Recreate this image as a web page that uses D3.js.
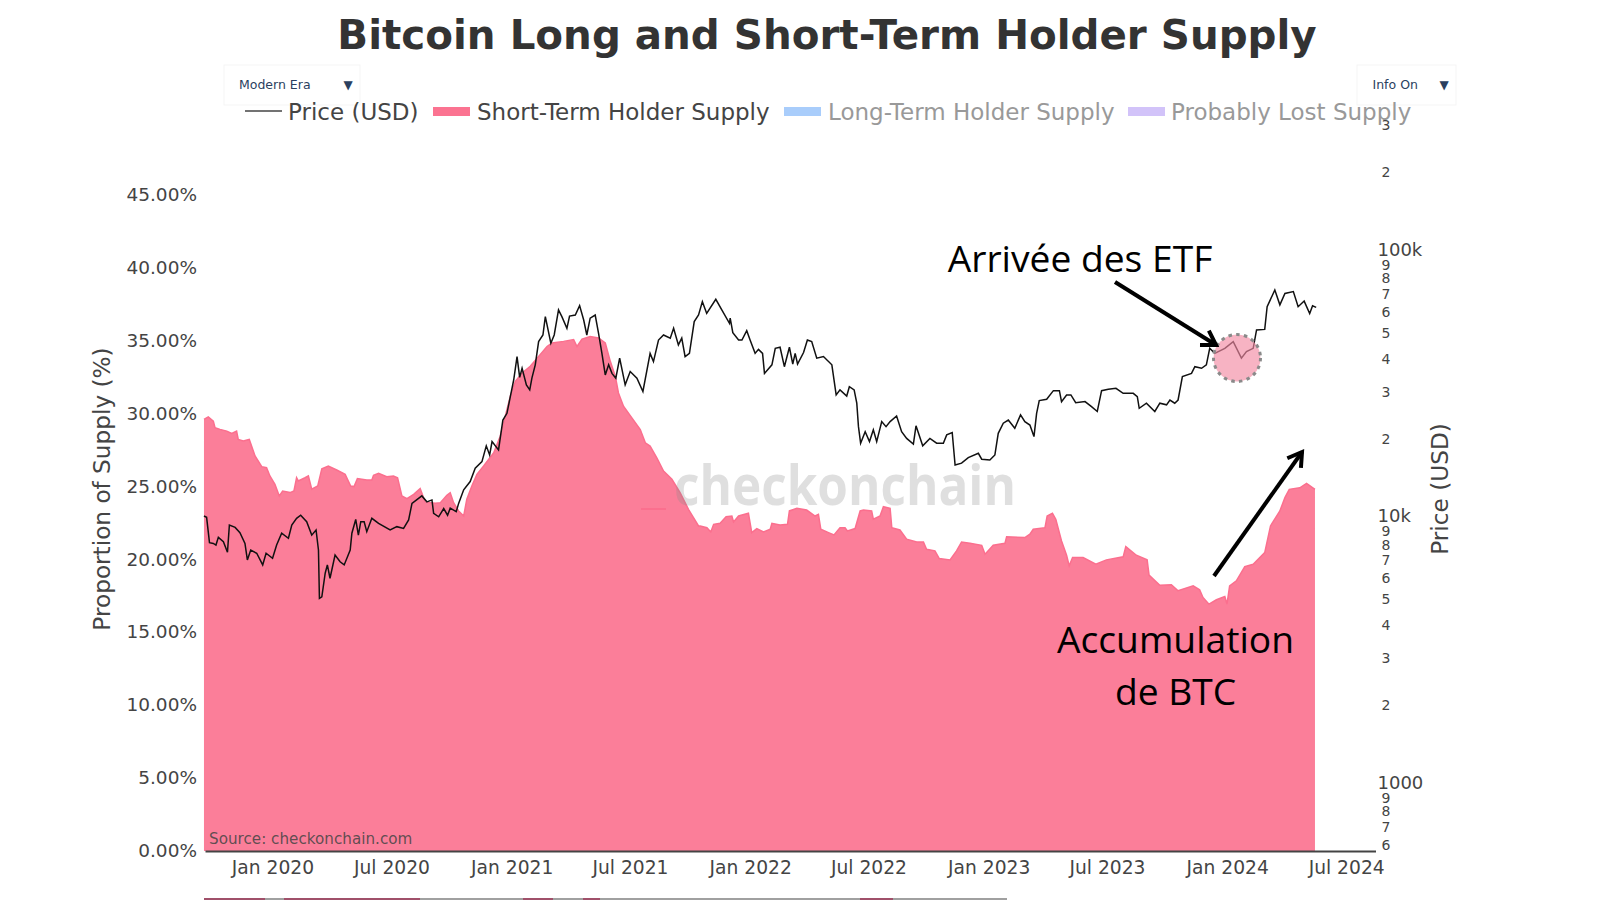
<!DOCTYPE html>
<html>
<head>
<meta charset="utf-8">
<script src="https://cdn.jsdelivr.net/npm/d3@7"></script>
<style>
html, body { margin: 0; padding: 0; background: #fff; }
svg { display: block; }
text { font-family: "DejaVu Sans", sans-serif; }
</style>
</head>
<body>
<div id="chart"></div>
<script>
// Short-term holder supply, [decimal year, % of supply]
var supplyData = [
[2019.710,29.66],[2019.728,29.84],[2019.749,29.55],[2019.756,29.09],[2019.777,28.98],[2019.805,28.86],[2019.826,28.70],[2019.846,28.86],[2019.853,28.29],[2019.874,28.18],[2019.899,28.29],[2019.923,27.15],[2019.951,26.42],[2019.971,26.35],[2019.985,25.78],
[2020.006,25.21],[2020.024,24.41],[2020.038,24.75],[2020.069,24.64],[2020.085,24.75],[2020.096,25.66],[2020.103,25.44],[2020.131,25.66],[2020.145,25.78],[2020.159,24.87],[2020.184,25.09],[2020.201,26.28],[2020.228,26.46],[2020.263,26.19],[2020.298,25.89],[2020.321,25.09],[2020.335,25.05],[2020.349,25.60],[2020.388,25.51],[2020.409,25.51],[2020.416,25.82],[2020.437,25.96],[2020.471,25.73],[2020.499,25.78],[2020.516,25.66],[2020.534,24.41],[2020.555,24.23],[2020.583,24.52],[2020.610,24.91],[2020.631,24.00],[2020.673,23.91],[2020.694,23.95],[2020.721,24.45],
[2020.735,24.63],[2020.749,23.95],[2020.770,23.38],[2020.791,23.03],[2020.804,24.18],[2020.825,25.09],[2020.846,25.89],[2020.874,26.46],[2020.916,27.37],[2020.943,28.51],[2020.964,29.88],[2020.985,31.25],
[2021.006,32.28],[2021.034,32.85],[2021.068,33.31],[2021.103,33.99],[2021.138,34.67],[2021.159,34.91],[2021.207,35.02],[2021.249,35.14],[2021.263,34.67],[2021.284,35.18],[2021.318,35.36],[2021.353,35.25],[2021.381,34.91],[2021.402,33.65],[2021.423,32.62],[2021.436,31.48],[2021.457,30.57],[2021.492,29.77],[2021.527,28.97],[2021.548,28.06],[2021.568,27.83],[2021.596,27.03],[2021.624,26.12],[2021.659,25.55],[2021.693,24.63],[2021.728,23.49],[2021.770,22.35],
[2021.777,22.35],[2021.805,22.23],[2021.821,21.94],[2021.833,22.46],[2021.860,22.53],[2021.885,22.99],[2021.909,23.03],[2021.916,22.62],[2021.937,23.03],[2021.978,23.22],[2021.992,21.89],
[2022.013,22.17],[2022.041,21.94],[2022.069,22.12],[2022.076,22.53],[2022.110,22.42],[2022.141,22.46],[2022.149,23.38],[2022.180,23.56],[2022.221,23.44],[2022.256,23.03],[2022.270,23.15],[2022.280,22.12],[2022.312,21.89],[2022.335,21.73],[2022.360,22.23],[2022.381,22.23],[2022.391,22.01],[2022.423,22.17],[2022.444,23.38],[2022.458,23.44],[2022.492,23.38],[2022.499,22.81],[2022.527,23.03],[2022.541,23.67],[2022.569,23.56],[2022.576,22.23],[2022.610,22.07],[2022.638,21.44],[2022.680,21.25],[2022.708,21.25],[2022.721,20.75],[2022.756,20.64],[2022.774,20.11],[2022.819,20.02],[2022.846,20.64],[2022.867,21.25],[2022.902,21.16],[2022.951,21.02],[2022.965,20.41],
[2022.999,21.02],[2023.048,21.16],[2023.055,21.60],[2023.131,21.55],[2023.152,21.78],[2023.166,22.12],[2023.215,22.23],[2023.224,23.03],[2023.246,23.22],[2023.260,22.81],[2023.284,21.32],[2023.305,20.34],[2023.316,19.61],[2023.330,20.18],[2023.374,20.18],[2023.427,19.72],[2023.471,20.02],[2023.541,20.23],[2023.552,20.93],[2023.596,20.34],[2023.641,20.02],[2023.649,18.97],[2023.694,18.28],[2023.742,18.31],[2023.770,17.90],[2023.833,18.24],[2023.860,17.96],[2023.874,17.44],[2023.899,16.98],[2023.930,17.28],[2023.965,17.51],[2023.974,16.98],[2023.985,18.24],
[2024.013,18.58],[2024.048,19.56],[2024.083,19.72],[2024.131,20.52],[2024.155,22.35],[2024.194,23.38],[2024.215,24.29],[2024.233,24.86],[2024.277,24.97],[2024.305,25.27],[2024.340,24.86]
];

// Price, [decimal year, USD]
var priceData = [
[2019.710,10090],[2019.721,9970],[2019.733,8010],[2019.749,7960],[2019.760,7850],[2019.770,8390],[2019.791,8080],[2019.808,7370],[2019.816,9330],[2019.840,9140],[2019.860,8730],[2019.881,7960],[2019.891,6900],[2019.905,7520],[2019.930,7310],[2019.955,6610],[2019.969,7310],[2019.996,7000],
[2020.013,7850],[2020.034,8690],[2020.062,8320],[2020.076,9330],[2020.096,9890],[2020.113,10160],[2020.138,9600],[2020.159,8550],[2020.177,8940],[2020.187,7520],[2020.191,4950],[2020.201,5020],[2020.215,6150],[2020.224,6610],[2020.235,5890],[2020.256,7200],[2020.277,6790],[2020.294,6610],[2020.319,7520],[2020.326,8690],[2020.342,9790],[2020.353,8550],[2020.363,9600],[2020.377,9600],[2020.388,8810],[2020.409,9890],[2020.437,9460],[2020.485,8940],[2020.513,9200],[2020.541,9060],[2020.562,9750],[2020.576,11250],[2020.617,12000],[2020.638,11400],[2020.659,11590],[2020.666,10330],[2020.687,10020],[2020.708,10760],[2020.724,10160],
[2020.735,10790],[2020.760,10470],[2020.770,11250],[2020.791,12650],[2020.818,13580],[2020.839,15240],[2020.867,16140],[2020.885,18490],[2020.899,17100],[2020.909,19190],[2020.936,17860],[2020.954,23120],[2020.971,24490],[2020.985,28310],[2020.999,32660],
[2021.013,39990],[2021.024,33420],[2021.034,36140],[2021.052,31330],[2021.066,29990],[2021.075,33190],[2021.089,37240],[2021.103,45500],[2021.121,48190],[2021.131,56490],[2021.154,44870],[2021.168,48190],[2021.186,59840],[2021.200,56490],[2021.221,51050],[2021.232,56750],[2021.256,57280],[2021.274,62090],[2021.291,54830],[2021.304,48190],[2021.318,55720],[2021.339,57280],[2021.353,48870],[2021.367,41110],[2021.381,34120],[2021.395,37240],[2021.409,34590],[2021.425,33190],[2021.441,39450],[2021.464,31330],[2021.485,35160],[2021.513,33190],[2021.538,29580],[2021.568,41110],[2021.582,38280],[2021.603,46130],[2021.624,48190],[2021.652,46880],[2021.666,51050],[2021.686,44260],[2021.700,46880],[2021.714,39990],[2021.732,41110],[2021.752,54080],[2021.770,57280],[2021.786,64270],[2021.804,58080],[2021.842,65610],[2021.867,59840],[2021.899,53330],
[2021.902,55720],[2021.913,49200],[2021.937,46130],[2021.951,46130],[2021.971,50000],[2021.985,46130],[2022.006,41110],[2022.020,42560],[2022.037,41110],[2022.045,34590],[2022.076,37240],[2022.090,42950],[2022.110,43350],[2022.128,36640],[2022.149,43350],[2022.163,37500],[2022.173,41110],[2022.183,37500],[2022.208,41400],[2022.224,46130],[2022.242,45500],[2022.263,39450],[2022.291,39990],[2022.326,37240],[2022.344,28710],[2022.360,29990],[2022.388,28440],[2022.399,30830],[2022.419,29990],[2022.430,26730],[2022.437,21830],[2022.446,18920],[2022.465,20890],[2022.483,19190],[2022.499,21230],[2022.513,19190],[2022.534,22800],[2022.552,21830],[2022.569,22800],[2022.596,23930],[2022.617,20890],[2022.638,19720],[2022.666,18790],[2022.677,21980],[2022.705,18490],[2022.735,19720],[2022.763,18920],[2022.791,18920],[2022.805,20320],[2022.828,20750],[2022.840,15670],[2022.867,15920],[2022.895,16710],[2022.937,17340],[2022.951,16480],[2022.985,16370],
[2023.006,17100],[2023.020,20610],[2023.041,22490],[2023.062,23120],[2023.089,21530],[2023.113,24150],[2023.131,22800],[2023.152,22130],[2023.169,20040],[2023.180,24490],[2023.191,27350],[2023.222,27670],[2023.250,29790],[2023.275,29790],[2023.284,27100],[2023.305,28710],[2023.323,28710],[2023.343,26850],[2023.382,27100],[2023.409,25940],[2023.433,24890],[2023.451,29790],[2023.479,30130],[2023.511,30410],[2023.541,29110],[2023.583,29110],[2023.600,28310],[2023.608,25590],[2023.638,26730],[2023.673,24890],[2023.694,26730],[2023.722,26360],[2023.736,27480],[2023.756,26730],[2023.770,27480],[2023.788,33650],[2023.826,34590],[2023.840,36640],[2023.868,36140],[2023.888,37240],[2023.902,42950],[2023.923,41110],[2023.965,42950],
[2024.000,45500],[2024.034,39450],[2024.055,41780],[2024.083,42950],[2024.097,50350],[2024.131,50580],[2024.141,61520],[2024.173,71120],[2024.194,62520],[2024.215,69020],[2024.250,70150],[2024.270,61520],[2024.295,64600],[2024.318,58000],[2024.330,62000],[2024.345,61200]
];

var pctTicks = [0,5,10,15,20,25,30,35,40,45];
var dateTicks = ["2020-01-01","2020-07-01","2021-01-01","2021-07-01","2022-01-01","2022-07-01","2023-01-01","2023-07-01","2024-01-01","2024-07-01"];
var priceMajor = [1000,10000,100000];
var priceMinor = [600,700,800,900,2000,3000,4000,5000,6000,7000,8000,9000,20000,30000,40000,50000,60000,70000,80000,90000,200000,300000];
var legendItems = [
    {name:"Price (USD)", color:"#444", type:"line", faded:false},
    {name:"Short-Term Holder Supply", color:"#fb7391", type:"bar", faded:false},
    {name:"Long-Term Holder Supply", color:"#a9cdfb", type:"bar", faded:true},
    {name:"Probably Lost Supply", color:"#d2c3f9", type:"bar", faded:true}
];

function toDate(yr) {
    var y = Math.floor(yr);
    var start = new Date(y,0,1).getTime();
    var end = new Date(y+1,0,1).getTime();
    return new Date(start + (yr-y)*(end-start));
}
// years above were read with a 240px/yr ruler, the axis is a bit tighter
function readDate(yr) {
    return toDate(2020 + 0.0042 + 1.00524*(yr-2020));
}

var left = 205, right = 1375.5, bottom = 851;

var svg = d3.select("#chart").append("svg").attr("width",1600).attr("height",900);

var x = d3.scaleTime().domain([toDate(2019.717),toDate(2024.62)]).range([left,right]);
var y = d3.scaleLinear().domain([0,45]).range([851.5,196]);
var yPrice = d3.scaleLog().domain([10000,100000]).range([517,250.5]);

// title
svg.append("text").attr("x",827).attr("y",49).attr("text-anchor","middle")
    .style("font-size","40.4px").style("font-weight","bold").style("fill","#333")
    .text("Bitcoin Long and Short-Term Holder Supply");

// the two dropdowns
function dropdown(x0, w, label, labelX, arrowX) {
    svg.append("rect").attr("x",x0).attr("y",65).attr("width",w).attr("height",40)
        .attr("fill","#fff").attr("stroke","#f5f5f5");
    svg.append("text").attr("x",labelX).attr("y",89).style("font-size","12.5px").style("fill","#2a3f5f").text(label);
    svg.append("text").attr("x",arrowX).attr("y",89).attr("text-anchor","middle").style("font-size","12px").style("fill","#2a3f5f").text("▼");
}
dropdown(224,136,"Modern Era",239,348);
dropdown(1357,99,"Info On",1372.5,1444);

// legend
var legendX = [[245,288],[433,477],[784,828],[1128,1171]];
var lg = svg.selectAll("g.lg").data(legendItems).enter().append("g").attr("class","lg");
lg.each(function(d,i) {
    var g = d3.select(this), p = legendX[i];
    if (d.type == "line") {
        g.append("line").attr("x1",p[0]).attr("x2",p[0]+37).attr("y1",111).attr("y2",111).attr("stroke",d.color).attr("stroke-width",1.5);
    } else {
        g.append("rect").attr("x",p[0]).attr("y",107).attr("width",37).attr("height",9).attr("fill",d.color);
    }
    g.append("text").attr("x",p[1]).attr("y",120).style("font-size","23px")
        .style("fill",d.faded ? "#999" : "#444").text(d.name);
});

// supply area
var area = d3.area().x(function(d){return x(readDate(d[0]));}).y0(bottom).y1(function(d){return y(d[1]);});
var edge = d3.line().x(function(d){return x(readDate(d[0]));}).y(function(d){return y(d[1]);});
svg.append("path").datum(supplyData).attr("d",area).attr("fill","#fb7e99");
svg.append("path").datum(supplyData).attr("d",edge).attr("fill","none").attr("stroke","#fb6f8e").attr("stroke-width",1.5);

// stray dash the screenshot has inside the area
svg.append("line").attr("x1",641).attr("x2",666).attr("y1",509).attr("y2",509).attr("stroke","#fb6f8e").attr("stroke-width",2);

// watermark
svg.append("text").attr("x",845).attr("y",505).attr("text-anchor","middle")
    .attr("textLength",342).attr("lengthAdjust","spacingAndGlyphs")
    .style("font-family","'Open Sans', sans-serif").style("font-size","56px").style("font-weight","bold")
    .style("fill","#888").style("fill-opacity",0.27).text("checkonchain");

// price line
var priceLine = d3.line().x(function(d){return x(readDate(d[0]));}).y(function(d){return yPrice(d[1]);});
svg.append("path").datum(priceData).attr("d",priceLine).attr("fill","none").attr("stroke","#111").attr("stroke-width",1.5);

// left axis
var yAxis = d3.axisLeft(y).tickValues(pctTicks).tickSize(0).tickPadding(8).tickFormat(function(d){return d3.format(".2f")(d)+"%";});
var gy = svg.append("g").attr("transform","translate("+left+",-1)").call(yAxis);
gy.select(".domain").remove();
gy.selectAll("text").style("font-size","18.5px").style("fill","#444").style("font-family","'DejaVu Sans', sans-serif");

// bottom axis
var xAxis = d3.axisBottom(x).tickValues(dateTicks.map(function(s){return d3.timeParse("%Y-%m-%d")(s);})).tickSize(0).tickPadding(10).tickFormat(d3.timeFormat("%b %Y"));
var gx = svg.append("g").attr("transform","translate(0,"+bottom+")").call(xAxis);
gx.select(".domain").attr("stroke","#444").attr("stroke-width",2);
gx.selectAll("text").style("font-size","18.7px").style("fill","#444").style("font-family","'DejaVu Sans', sans-serif");

// right axis, majors and minors have different sizes and baselines
var major = d3.axisRight(yPrice).tickValues(priceMajor).tickSize(0).tickPadding(2).tickFormat(function(d){return d >= 10000 ? (d/1000)+"k" : d;});
var gMajor = svg.append("g").attr("transform","translate("+right+",-1)").call(major);
gMajor.select(".domain").remove();
gMajor.selectAll("text").style("font-size","18px").style("fill","#444").style("font-family","'DejaVu Sans', sans-serif");
var minor = d3.axisRight(yPrice).tickValues(priceMinor).tickSize(0).tickPadding(6).tickFormat(function(d){return String(d)[0];});
var gMinor = svg.append("g").attr("transform","translate("+right+",2)").call(minor);
gMinor.select(".domain").remove();
gMinor.selectAll("text").style("font-size","14px").style("fill","#444").style("font-family","'DejaVu Sans', sans-serif");

// axis titles
svg.append("text").attr("transform","translate(110,489) rotate(-90)").attr("text-anchor","middle")
    .style("font-size","23.2px").style("fill","#444").text("Proportion of Supply (%)");
svg.append("text").attr("transform","translate(1448,489) rotate(-90)").attr("text-anchor","middle")
    .style("font-size","23.2px").style("fill","#444").text("Price (USD)");

svg.append("text").attr("x",209).attr("y",844).style("font-size","15.2px").style("fill","#444").style("fill-opacity",0.85).text("Source: checkonchain.com");

// cropped range slider at the very bottom of the screenshot
svg.append("rect").attr("x",204).attr("y",898).attr("width",803).attr("height",2).attr("fill","#a0a0a0");
[[204,61],[284,136],[523,30],[583,17],[860,33]].forEach(function(s) {
    svg.append("rect").attr("x",s[0]).attr("y",898).attr("width",s[1]).attr("height",2).attr("fill","#a0506a");
});

// annotations added on top
svg.append("circle").attr("cx",1237).attr("cy",358).attr("r",23.5)
    .attr("fill","#f28ba3").attr("fill-opacity",0.65)
    .attr("stroke","#8a8a8a").attr("stroke-width",3).attr("stroke-dasharray","3.5,4.3");

function arrow(x1,y1,x2,y2) {
    var a = Math.atan2(y2-y1,x2-x1), h = 16;
    svg.append("line").attr("x1",x1).attr("y1",y1).attr("x2",x2).attr("y2",y2).attr("stroke","#000").attr("stroke-width",4);
    var head = d3.line()([
        [x2-h*Math.cos(a-0.55),y2-h*Math.sin(a-0.55)],
        [x2,y2],
        [x2-h*Math.cos(a+0.55),y2-h*Math.sin(a+0.55)]
    ]);
    svg.append("path").attr("d",head).attr("fill","none").attr("stroke","#000").attr("stroke-width",4);
}
arrow(1115,282,1216,345);
arrow(1214,576,1302,452);

svg.selectAll("text.note").data([
    {t:"Arrivée des ETF",x:1080,y:272},
    {t:"Accumulation",x:1175.5,y:653},
    {t:"de BTC",x:1175.5,y:705}
]).enter().append("text").attr("class","note")
    .attr("x",function(d){return d.x;}).attr("y",function(d){return d.y;})
    .attr("text-anchor","middle").style("font-family","'Open Sans', sans-serif").style("font-size","37.2px").style("fill","#000")
    .text(function(d){return d.t;});
</script>
</body>
</html>
